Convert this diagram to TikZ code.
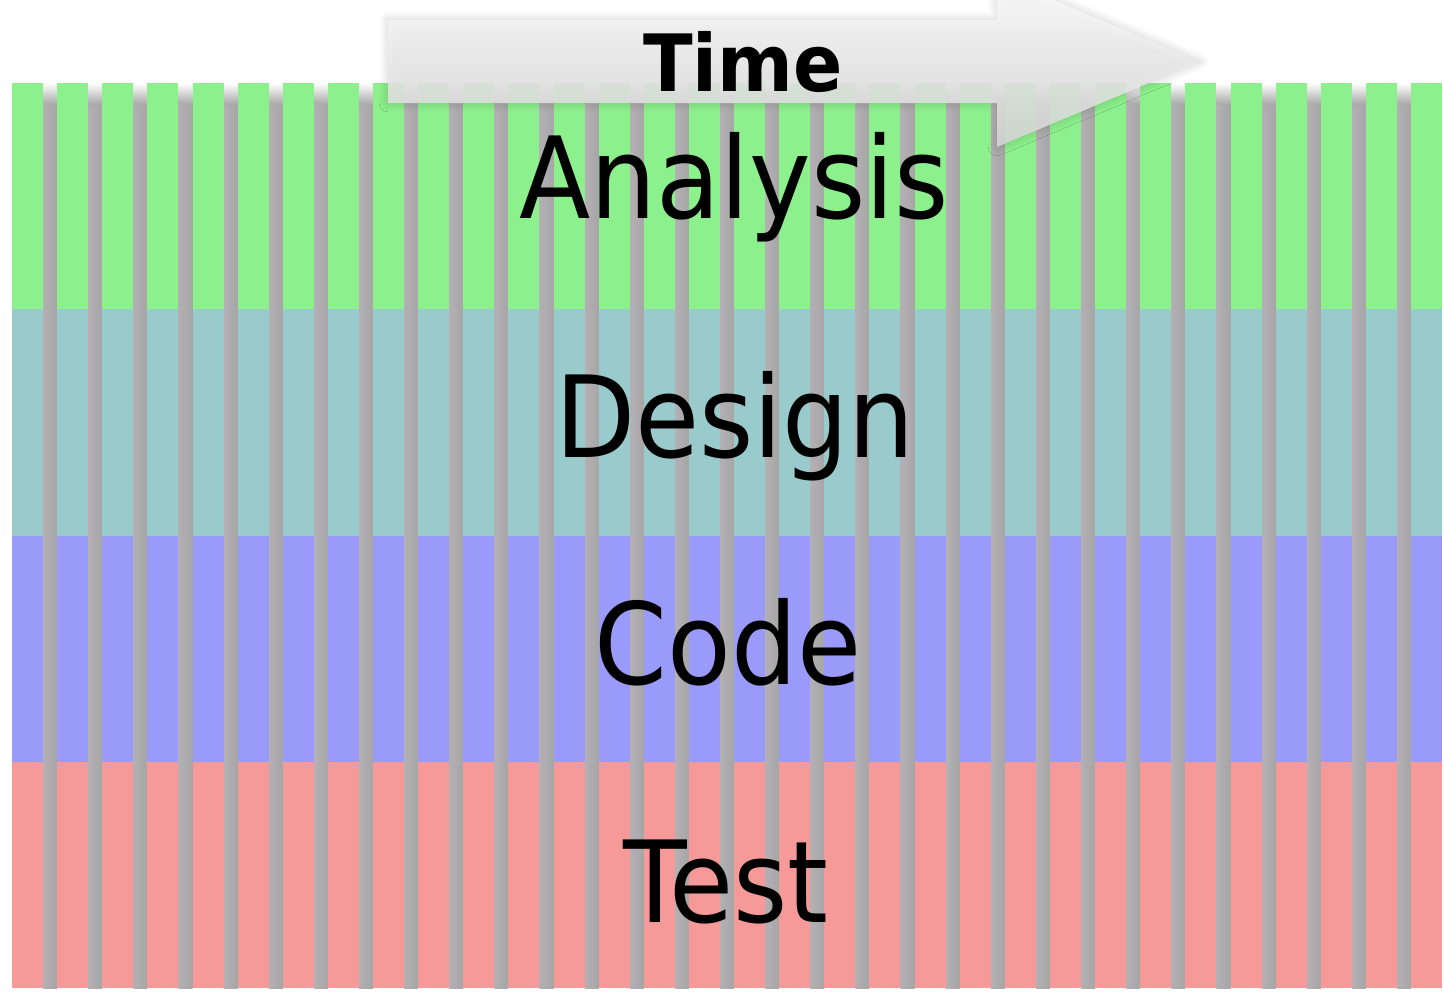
\documentclass[tikz,border=0pt]{standalone}
\usepackage{fontspec}
\setmainfont{DejaVu Sans}[FakeStretch=0.92]
\usepackage{tikz}
\usetikzlibrary{shadows.blur}

\definecolor{anagreen}{HTML}{8CF08C}
\definecolor{desteal}{HTML}{99CACC}
\definecolor{codeblue}{HTML}{9A9AFA}
\definecolor{testred}{HTML}{F59A98}
\definecolor{gapgray}{HTML}{A6A6A6}
\definecolor{gapedge}{HTML}{B4B0B4}

\begin{document}
\begin{tikzpicture}[x=0.02cm,y=-0.02cm,
        phase/.style={anchor=base, inner sep=0pt, font=\fontsize{64.5}{70}\selectfont},
        timelabel/.style={anchor=base, inner sep=0pt, font=\fontsize{45}{50}\selectfont\bfseries}]
        \def\colW{31}
        \def\pitch{45.13}
        \def\bandH{226.25}
        \def\topY{83}
        \def\botY{988}

        \useasboundingbox (0,0) rectangle (1444,994);

        \foreach \k in {0,...,30} {
            \shade[top color=white, bottom color=gapgray] ({12+\pitch*\k+\colW},\topY) rectangle ({12+\pitch*(\k+1)},105);
            \shade[left color=gapedge, right color=gapgray] ({12+\pitch*\k+\colW},105) rectangle ({12+\pitch*(\k+1)},\botY);
        }

        \foreach \c [count=\i from 0] in {anagreen,desteal,codeblue,testred} {
            \foreach \k in {0,...,31}
                \fill[\c] ({12+\pitch*\k},{\topY+\bandH*\i}) rectangle ++(\colW,\bandH);
        }

        \begin{scope}
            \clip (0,0) rectangle (1444,994);
            \shade[top color=white, bottom color=black!16, opacity=0.88,
                blur shadow={shadow xshift=0pt, shadow yshift=0pt, shadow blur radius=5pt, shadow opacity=20}]
                (388,20) -- (997,20) -- (997,-24) -- (1200,61.5) -- (997,147) -- (997,103) -- (388,103) -- cycle;
        \end{scope}

        \node[timelabel] (time) at (743,91) {Time};

        \node[phase] (analysis) at (734,218) {Analysis};
        \node[phase] (design) at (735,457) {Design};
        \node[phase] (code) at (728,684) {Code};
        \node[phase] (test) at (726,922) {Test};

    \end{tikzpicture}
\end{document}
